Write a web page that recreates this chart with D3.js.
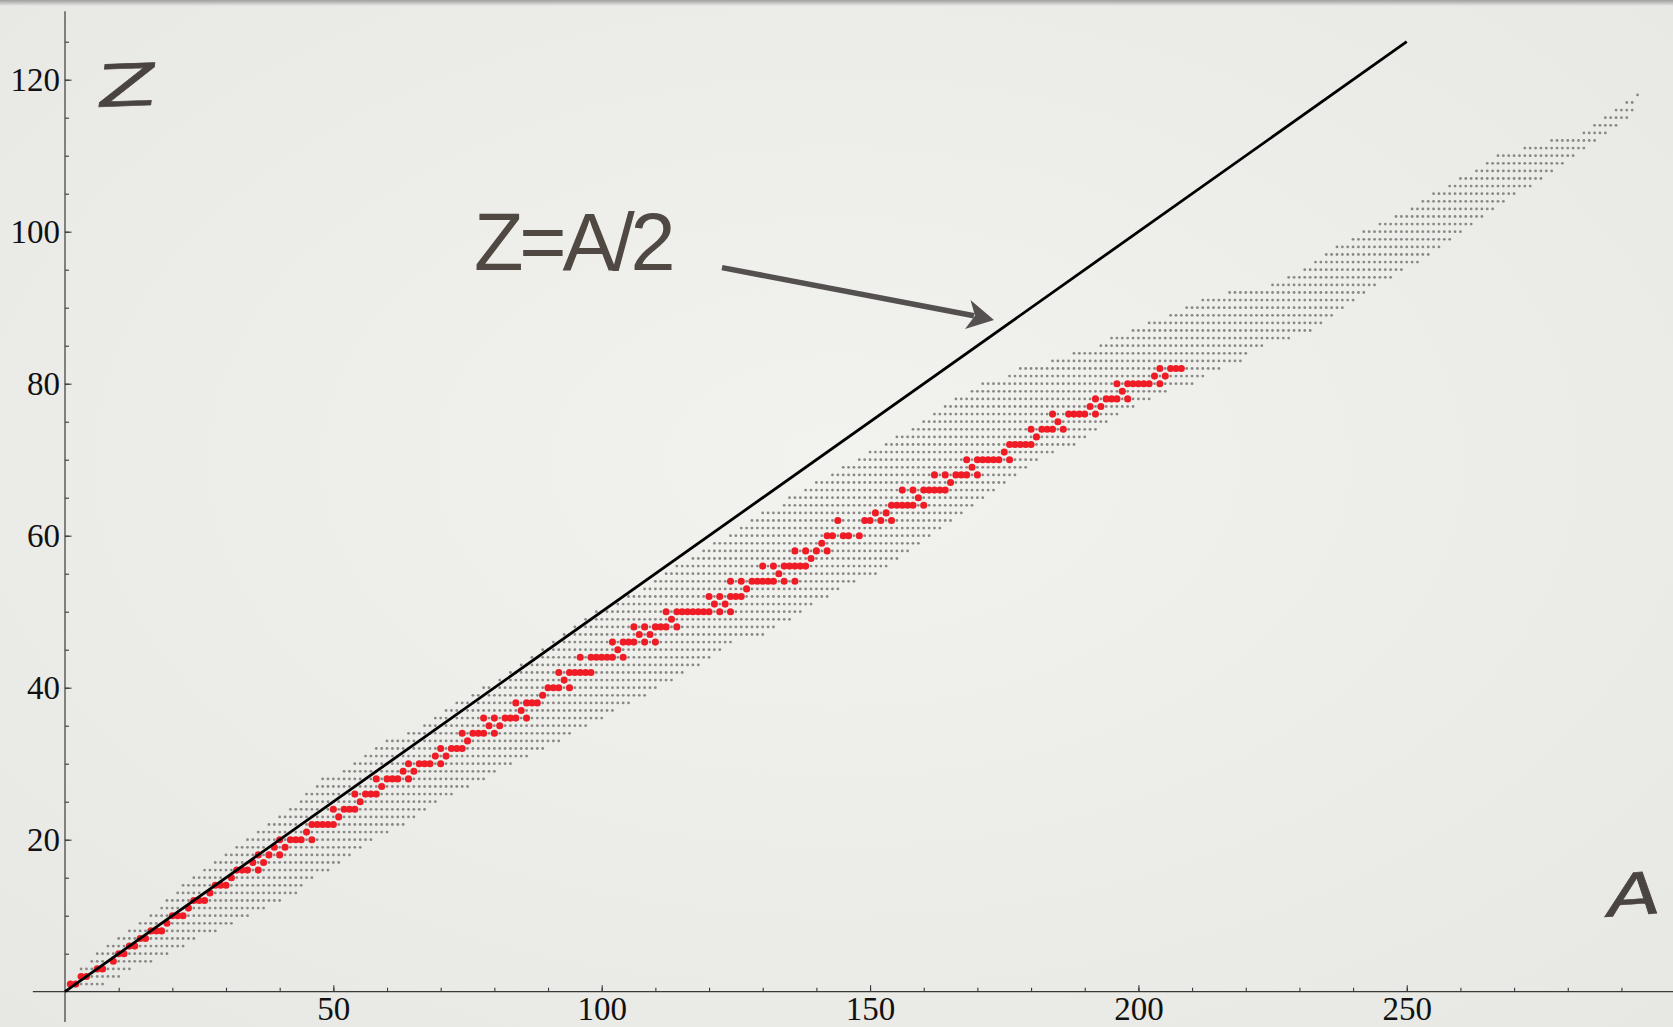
<!DOCTYPE html>
<html>
<head>
<meta charset="utf-8">
<script src="https://cdn.jsdelivr.net/npm/d3@7"></script>
<style>
	body { margin: 0; overflow: hidden; background: #eeeeea; }
	.tick text { font-family: "Liberation Serif", serif; font-size: 33px; fill: #111; }
	.tick line { stroke: #3a3a3a; stroke-width: 1.1; }
</style>
</head>
<body>
<div id="chart"></div>
<script>
// frame size
const FRAME_WIDTH = 1673;
const FRAME_HEIGHT = 1027;

// tick values
const X_TICKS = [50, 100, 150, 200, 250];
const Y_TICKS = [20, 40, 60, 80, 100, 120];

// known isotopes: lightest and heaviest mass number A for Z = 1..118
const MIN_A = [1, 3, 3, 5, 6, 8, 10, 12, 14, 16,
	18, 19, 21, 22, 24, 26, 28, 30, 32, 34,
	36, 38, 40, 42, 44, 45, 47, 48, 52, 54,
	56, 58, 60, 64, 67, 69, 71, 73, 76, 78,
	81, 83, 85, 87, 89, 91, 93, 95, 97, 99,
	103, 105, 108, 110, 112, 114, 117, 119, 121, 124,
	126, 128, 130, 134, 135, 138, 140, 143, 145, 148,
	150, 153, 155, 158, 160, 162, 164, 166, 169, 171,
	176, 178, 184, 188, 193, 195, 199, 202, 206, 209,
	212, 217, 225, 228, 231, 233, 235, 237, 240, 242,
	245, 248, 251, 253, 255, 258, 260, 263, 265, 267,
	272, 277, 283, 285, 287, 289, 291, 293];
const MAX_A = [7, 10, 12, 16, 19, 22, 24, 28, 31, 34,
	37, 40, 43, 44, 46, 49, 51, 53, 55, 57,
	60, 63, 65, 67, 69, 72, 75, 78, 80, 83,
	86, 89, 92, 94, 97, 100, 102, 105, 108, 110,
	113, 115, 118, 120, 122, 124, 130, 132, 135, 137,
	139, 142, 144, 147, 151, 153, 155, 157, 159, 161,
	163, 165, 167, 169, 171, 173, 175, 177, 179, 181,
	184, 188, 190, 192, 194, 196, 199, 202, 205, 210,
	212, 215, 219, 220, 223, 228, 232, 234, 236, 238,
	240, 242, 244, 247, 249, 252, 254, 256, 258, 260,
	262, 264, 266, 268, 270, 273, 275, 277, 279, 281,
	283, 285, 287, 289, 291, 292, 292, 293];

// stable isotopes: mass numbers for Z = 1..82
const STABLE_A = [
	[1, 2], [3, 4], [6, 7], [9], [10, 11], [12, 13], [14, 15], [16, 17, 18], [19], [20, 21, 22],
	[23], [24, 25, 26], [27], [28, 29, 30], [31], [32, 33, 34, 36], [35, 37], [36, 38, 40], [39, 41], [40, 42, 43, 44, 46],
	[45], [46, 47, 48, 49, 50], [51], [50, 52, 53, 54], [55], [54, 56, 57, 58], [59], [58, 60, 61, 62, 64], [63, 65], [64, 66, 67, 68, 70],
	[69, 71], [70, 72, 73, 74], [75], [74, 76, 77, 78, 80], [79, 81], [78, 80, 82, 83, 84, 86], [85], [84, 86, 87, 88], [89], [90, 91, 92, 94],
	[93], [92, 94, 95, 96, 97, 98], [], [96, 98, 99, 100, 101, 102, 104], [103], [102, 104, 105, 106, 108, 110], [107, 109], [106, 108, 110, 111, 112, 114], [113], [112, 114, 115, 116, 117, 118, 119, 120, 122, 124],
	[121, 123], [120, 122, 124, 125, 126], [127], [124, 126, 128, 129, 130, 131, 132, 134, 136], [133], [130, 132, 134, 135, 136, 137, 138], [139], [136, 138, 140, 142], [141], [142, 143, 145, 146, 148],
	[], [144, 149, 150, 152, 154], [151, 153], [154, 155, 156, 157, 158, 160], [159], [156, 158, 160, 161, 162, 163, 164], [165], [162, 164, 166, 167, 168, 170], [169], [168, 170, 171, 172, 173, 174, 176],
	[175], [176, 177, 178, 179, 180], [181], [180, 182, 183, 184, 186], [185], [184, 187, 188, 189, 190, 192], [191, 193], [192, 194, 195, 196, 198], [197], [196, 198, 199, 200, 201, 202, 204],
	[203, 205], [204, 206, 207, 208]
];

// flatten into (A, Z) points
const KNOWN_POINTS = [];
MIN_A.forEach((lo, i) => {
	d3.range(lo, MAX_A[i] + 1).forEach((a) => {KNOWN_POINTS.push({a: a, z: i + 1});});
});
const STABLE_POINTS = [];
STABLE_A.forEach((list, i) => {
	list.forEach((a) => {STABLE_POINTS.push({a: a, z: i + 1});});
});

// frame
const FRAME = d3.select("#chart")
				.append("svg")
					.attr("width", FRAME_WIDTH)
					.attr("height", FRAME_HEIGHT);

// background with soft vignette
const DEFS = FRAME.append("defs");
const BG_GRAD = DEFS.append("radialGradient")
					.attr("id", "bg")
					.attr("cx", "50%").attr("cy", "45%").attr("r", "75%");
BG_GRAD.append("stop").attr("offset", "0%").attr("stop-color", "#f2f2ee");
BG_GRAD.append("stop").attr("offset", "100%").attr("stop-color", "#e7e7e3");
const TOP_GRAD = DEFS.append("linearGradient")
					.attr("id", "topshade")
					.attr("x1", 0).attr("y1", 0).attr("x2", 0).attr("y2", 1);
TOP_GRAD.append("stop").attr("offset", "0%").attr("stop-color", "#8c8c8c").attr("stop-opacity", 0.8);
TOP_GRAD.append("stop").attr("offset", "100%").attr("stop-color", "#8c8c8c").attr("stop-opacity", 0);

FRAME.append("rect")
		.attr("width", FRAME_WIDTH)
		.attr("height", FRAME_HEIGHT)
		.attr("fill", "url(#bg)");
FRAME.append("rect")
		.attr("width", FRAME_WIDTH)
		.attr("height", 6)
		.attr("fill", "url(#topshade)");

// scales
const X_SCALE = d3.scaleLinear()
					.domain([0, 300])
					.range([65, 1675.1]);
const Y_SCALE = d3.scaleLinear()
					.domain([0, 130])
					.range([991.7, 3.7]);

// axis lines (they run a bit past the origin)
FRAME.append("line")
		.attr("x1", X_SCALE(-6)).attr("x2", FRAME_WIDTH)
		.attr("y1", Y_SCALE(0)).attr("y2", Y_SCALE(0))
		.attr("stroke", "#3a3a3a").attr("stroke-width", 1.2);
FRAME.append("line")
		.attr("x1", X_SCALE(0)).attr("x2", X_SCALE(0))
		.attr("y1", Y_SCALE(-4)).attr("y2", Y_SCALE(129))
		.attr("stroke", "#3a3a3a").attr("stroke-width", 1.2);

// x ticks
FRAME.append("g")
		.attr("transform", "translate(0," + Y_SCALE(0) + ")")
		.call(d3.axisBottom(X_SCALE).tickValues(d3.range(10, 300, 10)).tickSize(-4).tickFormat(""))
		.call((g) => g.select(".domain").remove());
FRAME.append("g")
		.attr("transform", "translate(0," + Y_SCALE(0) + ")")
		.call(d3.axisBottom(X_SCALE).tickValues(X_TICKS).tickSize(-6.5).tickPadding(5))
		.call((g) => g.select(".domain").remove());

// y ticks
FRAME.append("g")
		.attr("transform", "translate(" + X_SCALE(0) + ",0)")
		.call(d3.axisLeft(Y_SCALE).tickValues(d3.range(5, 130, 5)).tickSize(-4).tickFormat(""))
		.call((g) => g.select(".domain").remove());
FRAME.append("g")
		.attr("transform", "translate(" + X_SCALE(0) + ",0)")
		.call(d3.axisLeft(Y_SCALE).tickValues(Y_TICKS).tickSize(-6.5).tickPadding(5))
		.call((g) => g.select(".domain").remove());
FRAME.selectAll(".tick text").attr("font-size", null).attr("font-family", null);

// known isotopes
FRAME.append("g")
		.selectAll("circle")
		.data(KNOWN_POINTS)
		.enter()
		.append("circle")
			.attr("cx", (d) => {return X_SCALE(d.a);})
			.attr("cy", (d) => {return Y_SCALE(d.z);})
			.attr("r", 1.4)
			.attr("fill", "#888888");

// stable isotopes
FRAME.append("g")
		.selectAll("circle")
		.data(STABLE_POINTS)
		.enter()
		.append("circle")
			.attr("cx", (d) => {return X_SCALE(d.a);})
			.attr("cy", (d) => {return Y_SCALE(d.z);})
			.attr("r", 3.55)
			.attr("fill", "#ef1c26");

// Z = A/2 line
FRAME.append("line")
		.attr("x1", X_SCALE(0)).attr("y1", Y_SCALE(0))
		.attr("x2", X_SCALE(250)).attr("y2", Y_SCALE(125))
		.attr("stroke", "#000")
		.attr("stroke-width", 2.8);

// annotation text
FRAME.append("text")
		.attr("x", 474)
		.attr("y", 270)
		.attr("font-family", "Liberation Sans, Arial, sans-serif")
		.attr("font-size", 81)
		.attr("letter-spacing", -4.2)
		.attr("fill", "#4f4843")
		.text("Z=A/2");

// arrow
FRAME.append("line")
		.attr("x1", 722).attr("y1", 267.6)
		.attr("x2", 974).attr("y2", 315.8)
		.attr("stroke", "#545050")
		.attr("stroke-width", 5.5);
FRAME.append("path")
		.attr("d", "M994,320 L970.5,300 L975,315.8 L965,329 Z")
		.attr("fill", "#545050");

// handwritten axis letters
FRAME.append("text")
		.attr("transform", "translate(95,107) rotate(-2) scale(1.5,1) skewX(-6)")
		.attr("font-family", "DejaVu Sans, sans-serif")
		.attr("font-size", 58)
		.attr("fill", "#4a4440")
		.attr("stroke", "#4a4440")
		.attr("stroke-width", 0.6)
		.text("Z");
FRAME.append("text")
		.attr("transform", "translate(1604,917) rotate(-4) scale(1.35,1) skewX(-10)")
		.attr("font-family", "DejaVu Sans, sans-serif")
		.attr("font-size", 58)
		.attr("fill", "#4a4440")
		.attr("stroke", "#4a4440")
		.attr("stroke-width", 0.6)
		.text("A");
</script>
</body>
</html>
